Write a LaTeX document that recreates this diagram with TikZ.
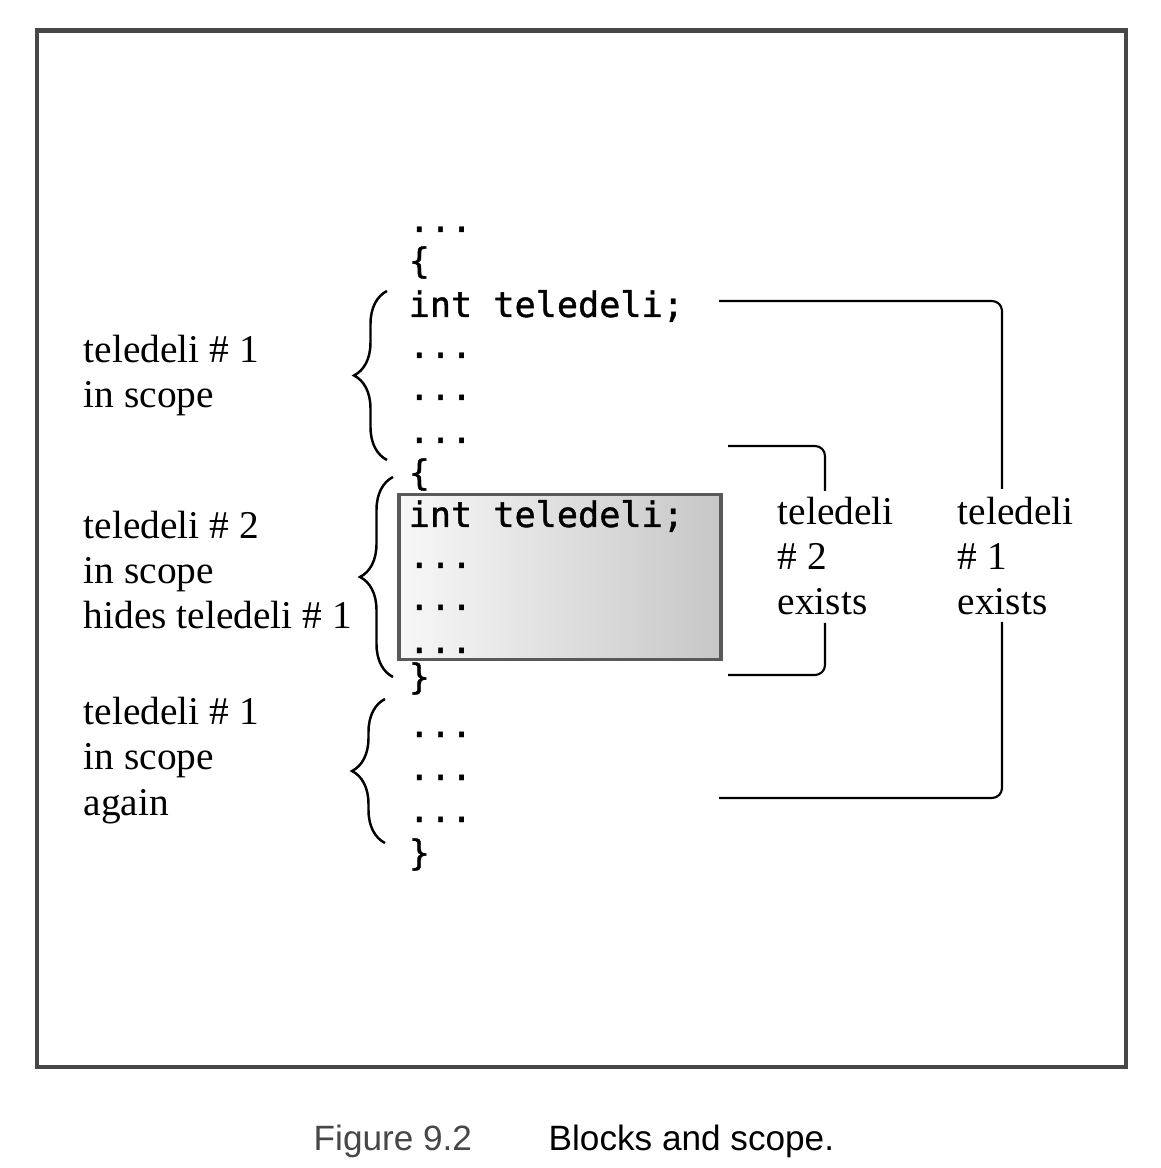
\documentclass[tikz,border=0pt]{standalone}
\usepackage{fontspec}
\setmainfont{Liberation Serif}
\newfontfamily\codefont[FakeBold=1.2]{DejaVu Sans Mono}
\newfontfamily\capfont{Liberation Sans}
\usetikzlibrary{decorations.pathreplacing}

\begin{document}
\begin{tikzpicture}[x=0.01cm, y=-0.01cm,
  codeline/.style={anchor=base west, inner sep=0pt, font=\codefont\fontsize{10}{12}\selectfont},
  lbl/.style={anchor=base west, inner sep=0pt, align=left, font=\fontsize{11.2}{12.8}\selectfont},
  captext/.style={anchor=base west, inner sep=0pt, font=\capfont\fontsize{10}{12}\selectfont},
  conn/.style={line width=0.6pt, rounded corners=0.1cm},
  scopebrace/.style={decorate, decoration={brace, amplitude=0.33cm}, line width=0.7pt}]
	\useasboundingbox (0,0) rectangle (1160,1168);
	\draw[line width=1.15pt, black!72] (37,30.5) rectangle (1125.5,1067);
	% inner block
	\draw[line width=1pt, draw=black!65, left color=black!3, right color=black!22] (399,494.5) rectangle (721,659.5);
	% code
	\node[codeline] (dA) at (408,232) {...};
	\node[codeline] (oA) at (408,273) {\{};
	\node[codeline] (decl1) at (408,317) {int teledeli;};
	\node[codeline] (d1) at (408,358) {...};
	\node[codeline] (d2) at (408,400) {...};
	\node[codeline] (d3) at (408,443) {...};
	\node[codeline] (oB) at (408,485) {\{};
	\node[codeline] (decl2) at (408,527) {int teledeli;};
	\node[codeline] (d4) at (408,568) {...};
	\node[codeline] (d5) at (408,610) {...};
	\node[codeline] (d6) at (408,653) {...};
	\node[codeline] (cB) at (408,689) {\}};
	\node[codeline] (d7) at (408,737) {...};
	\node[codeline] (d8) at (408,780) {...};
	\node[codeline] (d9) at (408,822) {...};
	\node[codeline] (cA) at (408,865) {\}};
	% scopes (placed by last baseline)
	\node[lbl] (s1) at (83,408) {teledeli \# 1\\in scope};
	\node[lbl] (s2) at (83,629) {teledeli \# 2\\in scope\\hides teledeli \# 1};
	\node[lbl] (s3) at (83,815) {teledeli \# 1\\in scope\\again};
	\draw[scopebrace] (387,460) -- (387,291);
	\draw[scopebrace] (393,677) -- (393,477);
	\draw[scopebrace] (385,843) -- (385,699);
	% lifetimes
	\node[lbl] (e2) at (777,615) {teledeli\\\# 2\\exists};
	\node[lbl] (e1) at (957,615) {teledeli\\\# 1\\exists};
	\coordinate (a1) at (719,301);
	\coordinate (a1e) at (1002,489);
	\coordinate (b1) at (1002,622);
	\coordinate (b1e) at (719,798);
	\coordinate (a2) at (728,446);
	\coordinate (a2e) at (825,491);
	\coordinate (b2) at (825,623);
	\coordinate (b2e) at (728,675);
	\draw[conn] (a1) -| (a1e);
	\draw[conn] (b1) |- (b1e);
	\draw[conn] (a2) -| (a2e);
	\draw[conn] (b2) |- (b2e);
	% caption
	\node[captext, text=black!72] (fig) at (313,1150) {Figure 9.2};
	\node[captext] (title) at (548,1150) {Blocks and scope.};
\end{tikzpicture}
\end{document}
